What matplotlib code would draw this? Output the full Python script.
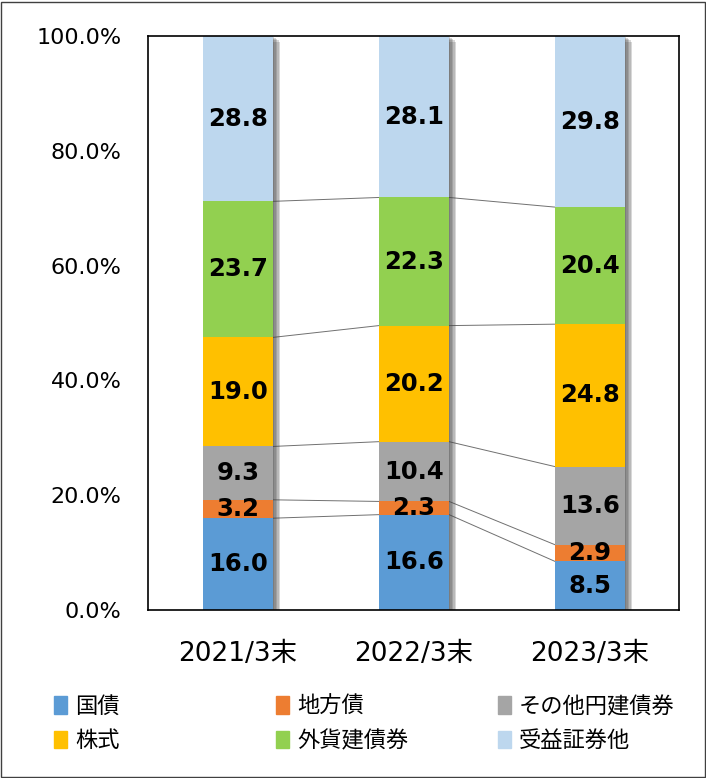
import numpy as np
import matplotlib
matplotlib.use('Agg')
import matplotlib.pyplot as plt
import matplotlib.patheffects as pe
from matplotlib.patches import Patch, Rectangle

plt.rcParams['font.family'] = ['DejaVu Sans', 'Noto Sans CJK JP']

# データ (%)
periods = ['2021/3末', '2022/3末', '2023/3末']
series = ['国債', '地方債', 'その他円建債券', '株式', '外貨建債券', '受益証券他']
kokusai = [16.0, 16.6, 8.5]
chihousai = [3.2, 2.3, 2.9]
sonota_en = [9.3, 10.4, 13.6]
kabushiki = [19.0, 20.2, 24.8]
gaika = [23.7, 22.3, 20.4]
jueki = [28.8, 28.1, 29.8]
colors = ['#5B9BD5', '#ED7D31', '#A5A5A5', '#FFC000', '#92D050', '#BDD7EE']

values = np.array([kokusai, chihousai, sonota_en, kabushiki, gaika, jueki])
pct = values / values.sum(axis=0) * 100
cum = np.cumsum(pct, axis=0)
bottoms = cum - pct

fig = plt.figure(figsize=(7.06, 7.78), dpi=100)
ax = fig.add_axes([0.2096, 0.2159, 0.752, 0.7378])

x = np.arange(len(periods))
w = 0.40

# 影
shadow = [pe.SimplePatchShadow(offset=(o, -o * 0.8), shadow_rgbFace='#404040', alpha=0.2)
          for o in (1, 2, 3, 4, 5)]
ax.bar(x, cum[-1], w, color='white', zorder=1, path_effects=shadow + [pe.Normal()])

for i in range(len(series)):
    ax.bar(x, pct[i], w, bottom=bottoms[i], color=colors[i], zorder=2)
    for j in range(len(x)):
        ax.text(x[j], bottoms[i][j] + pct[i][j] / 2, '%.1f' % values[i][j],
                ha='center', va='center', fontsize=17.5, fontweight='bold', zorder=4)

# 系列線
for i in range(len(series) - 1):
    for j in range(len(x) - 1):
        ax.plot([x[j] + w / 2, x[j + 1] - w / 2], [cum[i][j], cum[i][j + 1]],
                color='#707070', lw=0.7, zorder=0.5)

ax.set_xlim(-0.511, 2.506)
ax.set_ylim(0, 100)
ax.set_yticks(np.arange(0, 101, 20))
ax.set_yticklabels(['%.1f%%' % v for v in np.arange(0, 101, 20)], fontsize=16)
ax.set_xticks(x)
ax.set_xticklabels(periods, fontsize=19)
ax.tick_params(axis='y', length=0, pad=19)
ax.tick_params(axis='x', length=0, pad=22)
for s in ax.spines.values():
    s.set_linewidth(1.2)
    s.set_color('black')

# 凡例
cols = [[0, 3], [1, 4], [2, 5]]
xs = [54, 276, 498]
for c, xp in zip(cols, xs):
    handles = [Patch(color=colors[k], label=series[k]) for k in c]
    fig.legend(handles=handles, loc='upper left', bbox_to_anchor=(xp / 706, 1 - 695 / 778),
               frameon=False, handlelength=0.6, handleheight=0.85,
               handletextpad=0.35, labelspacing=0.5, borderpad=0, borderaxespad=0,
               prop={'family': ['Noto Sans CJK JP'], 'size': 16})

fig.patches.append(Rectangle((0.001, 0.001), 0.997, 0.996, transform=fig.transFigure,
                             fill=False, edgecolor='#404040', lw=1))

fig.savefig('out.png', dpi=100)
